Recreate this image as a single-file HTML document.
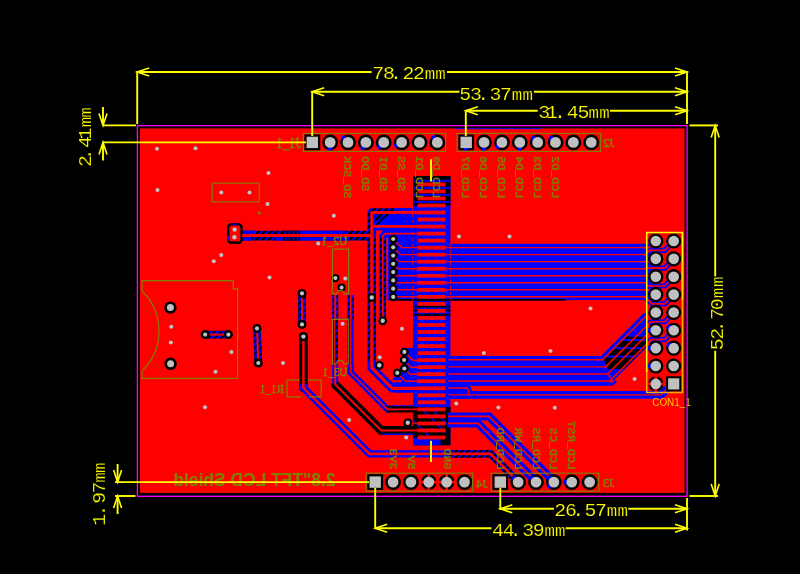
<!DOCTYPE html>
<html lang="en">
<head>
<meta charset="utf-8">
<title>2.8 TFT LCD Shield PCB layout</title>
<style>html,body{margin:0;padding:0;background:#000;overflow:hidden}svg{display:block;will-change:transform}text{white-space:pre}</style>
</head>
<body>
<svg width="800" height="574" viewBox="0 0 800 574">
<g id="base">
<defs><pattern id="hatch" width="4.4" height="4.4" patternUnits="userSpaceOnUse" patternTransform="rotate(-45)"><rect width="4.4" height="4.4" fill="#000"/><rect width="4.4" height="2" fill="#0000ff"/></pattern><pattern id="hatchb" width="4.4" height="4.4" patternUnits="userSpaceOnUse" patternTransform="rotate(-45)"><rect width="4.4" height="4.4" fill="#000"/><rect width="4.4" height="2.9" fill="#0000ff"/></pattern><pattern id="hatchv" width="3.5" height="3.5" patternUnits="userSpaceOnUse"><rect width="3.5" height="3.5" fill="#000"/><rect width="3.5" height="1.7" fill="#0000ff"/></pattern><linearGradient id="cg" x1="0" y1="0" x2="0" y2="1"><stop offset="0" stop-color="#ffff00"/><stop offset="0.4" stop-color="#ffe000"/><stop offset="1" stop-color="#ffa800"/></linearGradient></defs>
<rect x="0" y="0" width="800" height="574" fill="#000000" />
<rect x="140" y="128.4" width="544.5" height="364.5" fill="#ff0000" />
</g>
<g id="blue">
<rect x="413" y="176" width="37.4" height="269.2" fill="#0000ff" />
<rect x="413" y="176" width="37.4" height="29.5" fill="#000000" />
<rect x="413" y="179.8" width="37.4" height="2" fill="#0000ff" />
<rect x="413" y="186.9" width="37.4" height="2" fill="#0000ff" />
<rect x="413" y="193.9" width="37.4" height="2" fill="#0000ff" />
<rect x="413" y="200.9" width="37.4" height="2" fill="#0000ff" />
<rect x="413" y="298.8" width="37.4" height="2" fill="#000000" />
<rect x="413" y="305.6" width="37.4" height="2" fill="#000000" />
<rect x="413" y="309.4" width="37.4" height="2" fill="#000000" />
<rect x="413" y="313.8" width="37.4" height="2" fill="#000000" />
<rect x="413" y="407" width="37.4" height="38.2" fill="#000000" />
<rect x="413" y="437.5" width="27.5" height="7.7" fill="#0000ff" />
<polyline points="424,411 446,433" fill="none" stroke="#0000ff" stroke-width="1.6" />
<polyline points="434,411 449,426" fill="none" stroke="#0000ff" stroke-width="1.6" />
<polyline points="413,420 438,445" fill="none" stroke="#0000ff" stroke-width="1.6" />
<rect x="373.4" y="213.8" width="39.6" height="86.4" fill="#0000ff" />
<polygon points="373.6,214 388.5,214 377.8,225 373.6,225" fill="url(#hatch)" />
<polyline points="242,235.6 373,235.6" fill="none" stroke="url(#hatch)" stroke-width="9.6" stroke-linejoin="round"/>
<polyline points="371.8,240.4 371.8,212.4 395,212.4" fill="none" stroke="url(#hatch)" stroke-width="8.4" stroke-linejoin="round"/>
<polyline points="394,212.4 414,212.4" fill="none" stroke="#0000ff" stroke-width="8.4" />
<polyline points="242.5,232.3 256,232.3" fill="none" stroke="#0000ff" stroke-width="3.3" />
<polyline points="242.5,238.9 251,238.9" fill="none" stroke="#0000ff" stroke-width="3.3" />
<polyline points="300,232.3 345,232.3" fill="none" stroke="#0000ff" stroke-width="3.3" />
<polyline points="275,238.9 283,238.9" fill="none" stroke="#0000ff" stroke-width="3.3" />
<polyline points="300,238.9 350,238.9" fill="none" stroke="#0000ff" stroke-width="3.3" />
<polyline points="394,209.8 413,209.8" fill="none" stroke="#0000ff" stroke-width="3.2" />
<polyline points="389,216 413,216" fill="none" stroke="#0000ff" stroke-width="4.4" />
<rect x="283" y="230.7" width="17" height="3.3" fill="#000000" />
<rect x="283" y="237.3" width="17" height="3.2" fill="#000000" />
<rect x="284.6" y="230.7" width="1.8" height="3.3" fill="#0000ff" />
<rect x="284.6" y="237.3" width="1.8" height="3.2" fill="#0000ff" />
<rect x="288.6" y="230.7" width="1.8" height="3.3" fill="#0000ff" />
<rect x="288.6" y="237.3" width="1.8" height="3.2" fill="#0000ff" />
<rect x="292.6" y="230.7" width="1.8" height="3.3" fill="#0000ff" />
<rect x="292.6" y="237.3" width="1.8" height="3.2" fill="#0000ff" />
<rect x="296.6" y="230.7" width="1.8" height="3.3" fill="#0000ff" />
<rect x="296.6" y="237.3" width="1.8" height="3.2" fill="#0000ff" />
<rect x="373.4" y="214" width="1.6" height="86" fill="#0000ff" />
<polyline points="371.8,235.6 371.8,364" fill="none" stroke="url(#hatch)" stroke-width="8.4" stroke-linejoin="round"/>
<polyline points="380.8,237 380.8,321" fill="none" stroke="url(#hatch)" stroke-width="2.2" />
<polyline points="384.8,238 384.8,321" fill="none" stroke="url(#hatch)" stroke-width="2.2" />
<polyline points="375.4,300 375.4,362" fill="none" stroke="url(#hatch)" stroke-width="1.8" />
<rect x="384" y="236" width="29" height="64.2" fill="#0000ff" />
<rect x="450.4" y="243.8" width="195.6" height="56.3" fill="#0000ff" />
<polyline points="380.8,237 380.8,321" fill="none" stroke="url(#hatch)" stroke-width="2.2" />
<polyline points="384.8,238 384.8,321" fill="none" stroke="url(#hatch)" stroke-width="2.2" />
<polyline points="396,299.9 565.5,299.9" fill="none" stroke="#000000" stroke-width="1.7" />
<rect x="450.4" y="357" width="19.6" height="42" fill="#0000ff" />
<rect x="450.4" y="356.6" width="151.6" height="29" fill="#0000ff" />
<polyline points="448.4,359.8 603.5,359.8" fill="none" stroke="#0000ff" stroke-width="7.4" stroke-linejoin="miter"/>
<polyline points="448.4,366.9 606.6,366.9" fill="none" stroke="#0000ff" stroke-width="7.4" stroke-linejoin="miter"/>
<polyline points="448.4,374 608.6,374" fill="none" stroke="#0000ff" stroke-width="7.4" stroke-linejoin="miter"/>
<polyline points="448.4,381 610.8,381" fill="none" stroke="#0000ff" stroke-width="7.4" stroke-linejoin="miter"/>
<polygon points="600,357 643,314 647,314 647,347 613,381" fill="#0000ff" />
<clipPath id="cpB"><polygon points="603,357 643,317 647,317 647,346 612,381"/></clipPath>
<rect x="596" y="336.6" width="52" height="32.4" fill="#000000" clip-path="url(#cpB)"/>
<rect x="596" y="339" width="52" height="2" fill="#0000ff" clip-path="url(#cpB)"/>
<rect x="596" y="347.2" width="52" height="2" fill="#0000ff" clip-path="url(#cpB)"/>
<rect x="596" y="355.6" width="52" height="2" fill="#0000ff" clip-path="url(#cpB)"/>
<polyline points="450.4,384.4 612.5,384.4 616,381" fill="none" stroke="#0000ff" stroke-width="2.6" stroke-linejoin="miter"/>
<polyline points="450.4,357.6 602,357.6 646,313.6" fill="none" stroke="#0000ff" stroke-width="3" stroke-linejoin="miter"/>
<polyline points="448.4,394.8 661,394.8 667,388.8" fill="none" stroke="#0000ff" stroke-width="7.8" stroke-linejoin="miter"/>
<polyline points="448.4,388 466.5,388 468.6,390.1 468.6,394" fill="none" stroke="#0000ff" stroke-width="6.4" stroke-linejoin="round"/>
<rect x="646" y="243.8" width="5" height="58.2" fill="#0000ff" />
<polyline points="644,254.63 645,254.63 649.33,250.3 664.8,250.3 673.7,241" fill="none" stroke="#0000ff" stroke-width="5.2" stroke-linejoin="miter"/>
<polyline points="644,268.69 645,268.69 645.53,268.16 664.8,268.16 673.7,258.86" fill="none" stroke="#0000ff" stroke-width="5.2" stroke-linejoin="miter"/>
<polyline points="644,282.75 645,282.75 648.27,286.02 664.8,286.02 673.7,276.72" fill="none" stroke="#0000ff" stroke-width="5.2" stroke-linejoin="miter"/>
<polyline points="644,296.81 645,296.81 652.07,303.88 664.8,303.88 673.7,294.58" fill="none" stroke="#0000ff" stroke-width="5.2" stroke-linejoin="miter"/>
<polyline points="648.76,323.74 650.76,321.74 664.8,321.74 673.7,312.44" fill="none" stroke="#0000ff" stroke-width="5.2" stroke-linejoin="miter"/>
<polyline points="649.2,341.6 651.2,339.6 664.8,339.6 673.7,330.3" fill="none" stroke="#0000ff" stroke-width="5.2" stroke-linejoin="miter"/>
<polyline points="455,128.7 541,128.7" fill="none" stroke="#0000ff" stroke-width="1" />
<rect x="228.2" y="224.4" width="13.4" height="18.4" rx="3" fill="#ff0000" stroke="#000000" stroke-width="2.4"/>
<polyline points="228.2,236 228.2,240" fill="none" stroke="#0000ff" stroke-width="2" />
<polyline points="232,224.2 237,224.2" fill="none" stroke="#0000ff" stroke-width="1.4" />
<polyline points="205.2,334.6 228.4,334.6" fill="none" stroke="#000000" stroke-width="7.6" stroke-linecap="round"/>
<polyline points="205.2,334.6 228.4,334.6" fill="none" stroke="url(#hatchb)" stroke-width="7.2" />
<polyline points="257,328.4 258.3,363" fill="none" stroke="#000000" stroke-width="7.6" stroke-linecap="round"/>
<polyline points="257,328.4 258.3,363" fill="none" stroke="url(#hatchb)" stroke-width="7.2" />
<polyline points="302,293.4 302,324.4" fill="none" stroke="#000000" stroke-width="7.6" stroke-linecap="round"/>
<polyline points="302,293.4 302,324.4" fill="none" stroke="url(#hatchb)" stroke-width="7.2" />
<polyline points="303.4,336.6 303.4,387.8" fill="none" stroke="#000000" stroke-width="8.6" stroke-linecap="round"/>
<polyline points="303.4,384 303.4,387.8 369.5,453.9 451,453.9" fill="none" stroke="#0000ff" stroke-width="7.4" stroke-linejoin="miter"/>
<polyline points="450,453.9 490.5,453.9 518.2,481.6" fill="none" stroke="url(#hatch)" stroke-width="7.6" stroke-linejoin="miter"/>
<polyline points="335.2,295 335.2,319.4" fill="none" stroke="url(#hatchb)" stroke-width="6.2" />
<polyline points="333.2,319.4 333.2,364" fill="none" stroke="#0000ff" stroke-width="1.8" />
<polyline points="336.6,319.4 336.6,364" fill="none" stroke="url(#hatch)" stroke-width="2.6" />
<polyline points="335.2,364 335.2,386" fill="none" stroke="#0000ff" stroke-width="6" />
<polyline points="335.2,383.5 335.2,384.5 381.1,430.4 413,430.4" fill="none" stroke="#000000" stroke-width="8.6" stroke-linejoin="miter"/>
<polyline points="381,434.2 413,434.2" fill="none" stroke="#0000ff" stroke-width="1.4" />
<polyline points="350.7,295 350.7,319.4" fill="none" stroke="url(#hatchb)" stroke-width="6.4" />
<polyline points="348.4,319.4 348.4,364" fill="none" stroke="url(#hatch)" stroke-width="2.6" />
<polyline points="352.2,319.4 352.2,364" fill="none" stroke="#0000ff" stroke-width="2.6" />
<polyline points="350.7,364 350.7,372.5 387.5,409.3 390,409.3" fill="none" stroke="#0000ff" stroke-width="6.4" stroke-linejoin="miter"/>
<polyline points="386.5,409.3 413,409.3" fill="none" stroke="#000000" stroke-width="6.4" />
<polyline points="389,405.8 413,405.8" fill="none" stroke="#0000ff" stroke-width="1" />
<polyline points="371.8,362 371.8,368 392.1,388.3 418,388.3" fill="none" stroke="#0000ff" stroke-width="8.4" stroke-linejoin="miter"/>
<polygon points="405.5,348 413,348 413,392.5 396,392.5 388,384 393.5,378.5 398,373 405.5,369" fill="#0000ff" />
<polyline points="448,416.4 489,416.4 553.9,481.3" fill="none" stroke="#0000ff" stroke-width="8" stroke-linejoin="miter"/>
<polyline points="448,423.4 478,423.4 536,481.4" fill="none" stroke="#0000ff" stroke-width="8" stroke-linejoin="miter"/>
</g>
<g id="red">
<rect x="417.6" y="182.49" width="28" height="3.8" fill="#ff0000" />
<rect x="417.6" y="189.52" width="28" height="3.8" fill="#ff0000" />
<rect x="417.6" y="196.55" width="28" height="3.8" fill="#ff0000" />
<rect x="417.6" y="203.58" width="28" height="3.8" fill="#ff0000" />
<rect x="417.6" y="210.61" width="28" height="3.8" fill="#ff0000" />
<rect x="417.6" y="217.64" width="28" height="3.8" fill="#ff0000" />
<rect x="417.6" y="224.67" width="28" height="3.8" fill="#ff0000" />
<rect x="417.6" y="231.7" width="28" height="3.8" fill="#ff0000" />
<rect x="417.6" y="238.73" width="28" height="3.8" fill="#ff0000" />
<rect x="417.6" y="245.76" width="28" height="3.8" fill="#ff0000" />
<rect x="417.6" y="252.79" width="28" height="3.8" fill="#ff0000" />
<rect x="417.6" y="259.82" width="28" height="3.8" fill="#ff0000" />
<rect x="417.6" y="266.85" width="28" height="3.8" fill="#ff0000" />
<rect x="417.6" y="273.88" width="28" height="3.8" fill="#ff0000" />
<rect x="417.6" y="280.91" width="28" height="3.8" fill="#ff0000" />
<rect x="417.6" y="287.94" width="28" height="3.8" fill="#ff0000" />
<rect x="417.6" y="294.97" width="28" height="3.8" fill="#ff0000" />
<rect x="417.6" y="302" width="28" height="3.8" fill="#ff0000" />
<rect x="417.6" y="309.03" width="28" height="3.8" fill="#ff0000" />
<rect x="417.6" y="316.06" width="28" height="3.8" fill="#ff0000" />
<rect x="417.6" y="323.09" width="28" height="3.8" fill="#ff0000" />
<rect x="417.6" y="330.12" width="28" height="3.8" fill="#ff0000" />
<rect x="417.6" y="337.15" width="28" height="3.8" fill="#ff0000" />
<rect x="417.6" y="344.18" width="28" height="3.8" fill="#ff0000" />
<rect x="417.6" y="351.21" width="28" height="3.8" fill="#ff0000" />
<rect x="417.6" y="358.24" width="28" height="3.8" fill="#ff0000" />
<rect x="417.6" y="365.27" width="28" height="3.8" fill="#ff0000" />
<rect x="417.6" y="372.3" width="28" height="3.8" fill="#ff0000" />
<rect x="417.6" y="379.33" width="28" height="3.8" fill="#ff0000" />
<rect x="417.6" y="386.36" width="28" height="3.8" fill="#ff0000" />
<rect x="417.6" y="393.39" width="28" height="3.8" fill="#ff0000" />
<rect x="417.6" y="400.42" width="28" height="3.8" fill="#ff0000" />
<rect x="417.6" y="407.45" width="28" height="3.8" fill="#ff0000" />
<rect x="417.6" y="414.48" width="28" height="3.8" fill="#ff0000" />
<rect x="417.6" y="421.51" width="28" height="3.8" fill="#ff0000" />
<rect x="417.6" y="428.54" width="28" height="3.8" fill="#ff0000" />
<rect x="417.6" y="435.57" width="28" height="3.8" fill="#ff0000" />
<polyline points="242,235.6 373,235.6" fill="none" stroke="#ff0000" stroke-width="3" stroke-linejoin="round"/>
<polyline points="371.8,240.4 371.8,212.4 395,212.4" fill="none" stroke="#ff0000" stroke-width="3" stroke-linejoin="round"/>
<polyline points="394,212.4 418,212.4" fill="none" stroke="#ff0000" stroke-width="3" />
<polyline points="371.8,226.4 418,226.4" fill="none" stroke="#ff0000" stroke-width="2.8" />
<polyline points="371.8,235.6 371.8,364" fill="none" stroke="#ff0000" stroke-width="3.2" stroke-linejoin="round"/>
<polygon points="375.9,230.4 382.6,230.4 382.6,231.6 379.5,234.6 379.5,300 375.9,300" fill="#ff0000" />
<polyline points="377.7,300 377.7,362" fill="none" stroke="#ff0000" stroke-width="3.4" />
<polyline points="418,233.6 385.2,233.6 382.7,236.1 382.7,320" fill="none" stroke="#ff0000" stroke-width="1.6" stroke-linejoin="round"/>
<polyline points="387.2,237.8 387.2,301" fill="none" stroke="#ff0000" stroke-width="1.9" />
<polyline points="393.2,239 401.8,247.6 645,247.6" fill="none" stroke="#ff0000" stroke-width="1.4" />
<polyline points="393.2,247.28 400.55,254.63 645,254.63" fill="none" stroke="#ff0000" stroke-width="1.4" />
<polyline points="393.2,255.56 399.3,261.66 645,261.66" fill="none" stroke="#ff0000" stroke-width="1.4" />
<polyline points="393.2,263.84 398.05,268.69 645,268.69" fill="none" stroke="#ff0000" stroke-width="1.4" />
<polyline points="393.2,272.12 396.8,275.72 645,275.72" fill="none" stroke="#ff0000" stroke-width="1.4" />
<polyline points="393.2,280.4 395.55,282.75 645,282.75" fill="none" stroke="#ff0000" stroke-width="1.4" />
<polyline points="393.2,288.68 394.3,289.78 645,289.78" fill="none" stroke="#ff0000" stroke-width="1.4" />
<polyline points="393.2,296.96 399,296.81 645,296.81" fill="none" stroke="#ff0000" stroke-width="1.4" />
<polyline points="412.7,208 412.7,300" fill="none" stroke="#ff0000" stroke-width="0.8" stroke-dasharray="3 3"/>
<polyline points="450.6,244 450.6,300" fill="none" stroke="#ff0000" stroke-width="0.8" stroke-dasharray="3 3"/>
<polyline points="448.4,359.8 603.5,359.8" fill="none" stroke="#ff0000" stroke-width="1.4" stroke-linejoin="miter"/>
<polyline points="448.4,366.9 606.6,366.9" fill="none" stroke="#ff0000" stroke-width="1.4" stroke-linejoin="miter"/>
<polyline points="448.4,374 608.6,374" fill="none" stroke="#ff0000" stroke-width="1.4" stroke-linejoin="miter"/>
<polyline points="448.4,381 610.8,381" fill="none" stroke="#ff0000" stroke-width="1.4" stroke-linejoin="miter"/>
<polyline points="448.4,394.8 661,394.8 667,388.8" fill="none" stroke="#ff0000" stroke-width="1.3" stroke-linejoin="miter"/>
<polyline points="448.4,388 466.5,388 468.6,390.1 468.6,394" fill="none" stroke="#ff0000" stroke-width="1.3" stroke-linejoin="round"/>
<polyline points="644,254.63 645,254.63 649.33,250.3 664.8,250.3 673.7,241" fill="none" stroke="#ff0000" stroke-width="1.7" stroke-linejoin="miter"/>
<polyline points="644,247.6 649,247.6 655.8,241" fill="none" stroke="#ff0000" stroke-width="1.7" />
<polyline points="644,268.69 645,268.69 645.53,268.16 664.8,268.16 673.7,258.86" fill="none" stroke="#ff0000" stroke-width="1.7" stroke-linejoin="miter"/>
<polyline points="644,261.66 649,261.66 655.8,258.86" fill="none" stroke="#ff0000" stroke-width="1.7" />
<polyline points="644,282.75 645,282.75 648.27,286.02 664.8,286.02 673.7,276.72" fill="none" stroke="#ff0000" stroke-width="1.7" stroke-linejoin="miter"/>
<polyline points="644,275.72 649,275.72 655.8,276.72" fill="none" stroke="#ff0000" stroke-width="1.7" />
<polyline points="644,296.81 645,296.81 652.07,303.88 664.8,303.88 673.7,294.58" fill="none" stroke="#ff0000" stroke-width="1.7" stroke-linejoin="miter"/>
<polyline points="644,289.78 649,289.78 655.8,294.58" fill="none" stroke="#ff0000" stroke-width="1.7" />
<polyline points="601.5,359.8 602.5,359.8 648.5,313.8 655.8,312.44" fill="none" stroke="#ff0000" stroke-width="1.6" />
<polyline points="604.6,366.9 605.6,366.9 650.76,321.74" fill="none" stroke="#ff0000" stroke-width="1.6" />
<polyline points="648.76,323.74 650.76,321.74 664.8,321.74 673.7,312.44" fill="none" stroke="#ff0000" stroke-width="1.7" stroke-linejoin="miter"/>
<polyline points="606.6,374 607.6,374 648.5,333.1 655.8,330.3" fill="none" stroke="#ff0000" stroke-width="1.6" />
<polyline points="608.8,381 609.8,381 651.2,339.6" fill="none" stroke="#ff0000" stroke-width="1.6" />
<polyline points="649.2,341.6 651.2,339.6 664.8,339.6 673.7,330.3" fill="none" stroke="#ff0000" stroke-width="1.7" stroke-linejoin="miter"/>
<polyline points="205.2,334.6 228.4,334.6" fill="none" stroke="#ff0000" stroke-width="2" />
<polyline points="257,328.4 258.3,363" fill="none" stroke="#ff0000" stroke-width="2" />
<polyline points="302,293.4 302,324.4" fill="none" stroke="#ff0000" stroke-width="2" />
<polyline points="303.4,336.6 303.4,387.8 369.5,453.9 490.5,453.9 518.2,481.6" fill="none" stroke="#ff0000" stroke-width="2.6" stroke-linejoin="miter"/>
<polyline points="335.2,295 335.2,319.4" fill="none" stroke="#ff0000" stroke-width="2" />
<polyline points="335.2,364 335.2,384.5 381.1,430.4 418,430.4" fill="none" stroke="#ff0000" stroke-width="2" stroke-linejoin="miter"/>
<polyline points="350.7,295 350.7,319.4" fill="none" stroke="#ff0000" stroke-width="1.7" />
<polyline points="350.7,364 350.7,372.5 387.5,409.3 418,409.3" fill="none" stroke="#ff0000" stroke-width="1.7" stroke-linejoin="miter"/>
<polyline points="371.8,362 371.8,368 392.1,388.3 418,388.3" fill="none" stroke="#ff0000" stroke-width="3.2" stroke-linejoin="miter"/>
<polyline points="404.4,351.9 412.64,360.14 418,360.14" fill="none" stroke="#ff0000" stroke-width="1.5" />
<polyline points="392,381.2 402,381.2" fill="none" stroke="#ff0000" stroke-width="2.2" />
<polyline points="407.8,422.9 418,423.4" fill="none" stroke="#ff0000" stroke-width="1.4" />
<polyline points="448,416.4 489,416.4 553.9,481.3" fill="none" stroke="#ff0000" stroke-width="1.8" stroke-linejoin="miter"/>
<polyline points="448,423.4 478,423.4 536,481.4" fill="none" stroke="#ff0000" stroke-width="1.8" stroke-linejoin="miter"/>
</g>
<g id="pad">
<circle cx="393.2" cy="239" r="4.3" fill="#000000" />
<circle cx="393.2" cy="239" r="2.1" fill="#c0c0c0" />
<circle cx="393.2" cy="247.28" r="4.3" fill="#000000" />
<circle cx="393.2" cy="247.28" r="2.1" fill="#c0c0c0" />
<circle cx="393.2" cy="255.56" r="4.3" fill="#000000" />
<circle cx="393.2" cy="255.56" r="2.1" fill="#c0c0c0" />
<circle cx="393.2" cy="263.84" r="4.3" fill="#000000" />
<circle cx="393.2" cy="263.84" r="2.1" fill="#c0c0c0" />
<circle cx="393.2" cy="272.12" r="4.3" fill="#000000" />
<circle cx="393.2" cy="272.12" r="2.1" fill="#c0c0c0" />
<circle cx="393.2" cy="280.4" r="4.3" fill="#000000" />
<circle cx="393.2" cy="280.4" r="2.1" fill="#c0c0c0" />
<circle cx="393.2" cy="288.68" r="4.3" fill="#000000" />
<circle cx="393.2" cy="288.68" r="2.1" fill="#c0c0c0" />
<circle cx="393.2" cy="296.96" r="4.3" fill="#000000" />
<circle cx="393.2" cy="296.96" r="2.1" fill="#c0c0c0" />
<rect x="304.4" y="134.5" width="15.8" height="15.8" fill="#000000" />
<rect x="306.6" y="136.7" width="11.4" height="11.4" fill="#c0c0c0" />
<circle cx="330.16" cy="142.4" r="7.9" fill="#000000" />
<polyline points="330.16,145.4 330.16,150.5" fill="none" stroke="#0000ff" stroke-width="4.4" />
<circle cx="330.16" cy="142.4" r="5.4" fill="#c0c0c0" />
<circle cx="348.02" cy="142.4" r="7.9" fill="#000000" />
<polyline points="345.9,140.28 342.29,136.67" fill="none" stroke="#0000ff" stroke-width="4.4" />
<circle cx="348.02" cy="142.4" r="5.4" fill="#c0c0c0" />
<circle cx="365.88" cy="142.4" r="7.9" fill="#000000" />
<polyline points="364.38,145 361.83,149.41" fill="none" stroke="#0000ff" stroke-width="4.4" />
<circle cx="365.88" cy="142.4" r="5.4" fill="#c0c0c0" />
<circle cx="383.74" cy="142.4" r="7.9" fill="#000000" />
<polyline points="381.62,144.52 378.01,148.13" fill="none" stroke="#0000ff" stroke-width="4.4" />
<circle cx="383.74" cy="142.4" r="5.4" fill="#c0c0c0" />
<circle cx="401.6" cy="142.4" r="7.9" fill="#000000" />
<polyline points="399,143.9 394.59,146.45" fill="none" stroke="#0000ff" stroke-width="4.4" />
<circle cx="401.6" cy="142.4" r="5.4" fill="#c0c0c0" />
<circle cx="419.46" cy="142.4" r="7.9" fill="#000000" />
<circle cx="419.46" cy="142.4" r="5.4" fill="#c0c0c0" />
<circle cx="437.32" cy="142.4" r="7.9" fill="#000000" />
<polyline points="435.6,139.94 432.67,135.76" fill="none" stroke="#0000ff" stroke-width="4.4" />
<circle cx="437.32" cy="142.4" r="5.4" fill="#c0c0c0" />
<rect x="458.3" y="134.5" width="15.8" height="15.8" fill="#000000" />
<polyline points="466.2,145.4 466.2,150.5" fill="none" stroke="#0000ff" stroke-width="4.4" />
<rect x="460.5" y="136.7" width="11.4" height="11.4" fill="#c0c0c0" />
<circle cx="484.06" cy="142.4" r="7.9" fill="#000000" />
<polyline points="484.06,145.4 484.06,150.5" fill="none" stroke="#0000ff" stroke-width="4.4" />
<circle cx="484.06" cy="142.4" r="5.4" fill="#c0c0c0" />
<circle cx="501.92" cy="142.4" r="7.9" fill="#000000" />
<polyline points="499.8,144.52 496.19,148.13" fill="none" stroke="#0000ff" stroke-width="4.4" />
<circle cx="501.92" cy="142.4" r="5.4" fill="#c0c0c0" />
<circle cx="519.78" cy="142.4" r="7.9" fill="#000000" />
<polyline points="519.78,145.4 519.78,150.5" fill="none" stroke="#0000ff" stroke-width="4.4" />
<circle cx="519.78" cy="142.4" r="5.4" fill="#c0c0c0" />
<circle cx="537.64" cy="142.4" r="7.9" fill="#000000" />
<polyline points="535.52,140.28 531.91,136.67" fill="none" stroke="#0000ff" stroke-width="4.4" />
<circle cx="537.64" cy="142.4" r="5.4" fill="#c0c0c0" />
<circle cx="555.5" cy="142.4" r="7.9" fill="#000000" />
<polyline points="553.38,140.28 549.77,136.67" fill="none" stroke="#0000ff" stroke-width="4.4" />
<circle cx="555.5" cy="142.4" r="5.4" fill="#c0c0c0" />
<circle cx="573.36" cy="142.4" r="7.9" fill="#000000" />
<circle cx="573.36" cy="142.4" r="5.4" fill="#c0c0c0" />
<circle cx="591.22" cy="142.4" r="7.9" fill="#000000" />
<circle cx="591.22" cy="142.4" r="5.4" fill="#c0c0c0" />
<rect x="367.3" y="474.2" width="15.8" height="15.8" fill="#000000" />
<rect x="369.5" y="476.4" width="11.4" height="11.4" fill="#c0c0c0" />
<circle cx="393.06" cy="482.1" r="7.9" fill="#000000" />
<circle cx="393.06" cy="482.1" r="5.4" fill="#c0c0c0" />
<circle cx="410.92" cy="482.1" r="7.9" fill="#000000" />
<circle cx="410.92" cy="482.1" r="5.4" fill="#c0c0c0" />
<circle cx="428.78" cy="482.1" r="7.9" fill="#000000" />
<polyline points="420.38,482.1 437.18,482.1" fill="none" stroke="#ff0000" stroke-width="2.8" />
<polyline points="428.78,473.7 428.78,490.5" fill="none" stroke="#ff0000" stroke-width="2.8" />
<circle cx="428.78" cy="482.1" r="5.4" fill="#c0c0c0" />
<circle cx="446.64" cy="482.1" r="7.9" fill="#000000" />
<polyline points="438.24,482.1 455.04,482.1" fill="none" stroke="#ff0000" stroke-width="2.8" />
<polyline points="446.64,473.7 446.64,490.5" fill="none" stroke="#ff0000" stroke-width="2.8" />
<circle cx="446.64" cy="482.1" r="5.4" fill="#c0c0c0" />
<circle cx="464.5" cy="482.1" r="7.9" fill="#000000" />
<circle cx="464.5" cy="482.1" r="5.4" fill="#c0c0c0" />
<rect x="492.4" y="474.2" width="15.8" height="15.8" fill="#000000" />
<rect x="494.6" y="476.4" width="11.4" height="11.4" fill="#c0c0c0" />
<circle cx="518.16" cy="482.1" r="7.9" fill="#000000" />
<polyline points="516.04,479.98 512.43,476.37" fill="none" stroke="#0000ff" stroke-width="4.4" />
<circle cx="518.16" cy="482.1" r="5.4" fill="#c0c0c0" />
<circle cx="536.02" cy="482.1" r="7.9" fill="#000000" />
<polyline points="533.9,479.98 530.29,476.37" fill="none" stroke="#0000ff" stroke-width="4.4" />
<circle cx="536.02" cy="482.1" r="5.4" fill="#c0c0c0" />
<circle cx="553.88" cy="482.1" r="7.9" fill="#000000" />
<polyline points="551.76,479.98 548.15,476.37" fill="none" stroke="#0000ff" stroke-width="4.4" />
<polyline points="551.76,484.22 548.15,487.83" fill="none" stroke="#0000ff" stroke-width="4.4" />
<circle cx="553.88" cy="482.1" r="5.4" fill="#c0c0c0" />
<circle cx="571.74" cy="482.1" r="7.9" fill="#000000" />
<polyline points="568.74,482.1 563.64,482.1" fill="none" stroke="#0000ff" stroke-width="4.4" />
<circle cx="571.74" cy="482.1" r="5.4" fill="#c0c0c0" />
<circle cx="589.6" cy="482.1" r="7.9" fill="#000000" />
<circle cx="589.6" cy="482.1" r="5.4" fill="#c0c0c0" />
<circle cx="655.8" cy="241" r="7.6" fill="#000000" />
<circle cx="655.8" cy="241" r="5.3" fill="#c0c0c0" />
<circle cx="673.7" cy="241" r="7.6" fill="#000000" />
<circle cx="673.7" cy="241" r="5.3" fill="#c0c0c0" />
<circle cx="655.8" cy="258.86" r="7.6" fill="#000000" />
<circle cx="655.8" cy="258.86" r="5.3" fill="#c0c0c0" />
<circle cx="673.7" cy="258.86" r="7.6" fill="#000000" />
<circle cx="673.7" cy="258.86" r="5.3" fill="#c0c0c0" />
<circle cx="655.8" cy="276.72" r="7.6" fill="#000000" />
<circle cx="655.8" cy="276.72" r="5.3" fill="#c0c0c0" />
<circle cx="673.7" cy="276.72" r="7.6" fill="#000000" />
<circle cx="673.7" cy="276.72" r="5.3" fill="#c0c0c0" />
<circle cx="655.8" cy="294.58" r="7.6" fill="#000000" />
<circle cx="655.8" cy="294.58" r="5.3" fill="#c0c0c0" />
<circle cx="673.7" cy="294.58" r="7.6" fill="#000000" />
<circle cx="673.7" cy="294.58" r="5.3" fill="#c0c0c0" />
<circle cx="655.8" cy="312.44" r="7.6" fill="#000000" />
<circle cx="655.8" cy="312.44" r="5.3" fill="#c0c0c0" />
<circle cx="673.7" cy="312.44" r="7.6" fill="#000000" />
<circle cx="673.7" cy="312.44" r="5.3" fill="#c0c0c0" />
<circle cx="655.8" cy="330.3" r="7.6" fill="#000000" />
<polyline points="652.8,330.3 648,330.3" fill="none" stroke="#0000ff" stroke-width="4.4" />
<circle cx="655.8" cy="330.3" r="5.3" fill="#c0c0c0" />
<circle cx="673.7" cy="330.3" r="7.6" fill="#000000" />
<polyline points="671.24,328.58 667.31,325.83" fill="none" stroke="#0000ff" stroke-width="4.4" />
<circle cx="673.7" cy="330.3" r="5.3" fill="#c0c0c0" />
<circle cx="655.8" cy="348.16" r="7.6" fill="#000000" />
<polyline points="652.8,348.16 648,348.16" fill="none" stroke="#0000ff" stroke-width="4.4" />
<circle cx="655.8" cy="348.16" r="5.3" fill="#c0c0c0" />
<circle cx="673.7" cy="348.16" r="7.6" fill="#000000" />
<polyline points="671.24,346.44 667.31,343.69" fill="none" stroke="#0000ff" stroke-width="4.4" />
<circle cx="673.7" cy="348.16" r="5.3" fill="#c0c0c0" />
<circle cx="655.8" cy="366.02" r="7.6" fill="#000000" />
<polyline points="652.8,366.02 648,366.02" fill="none" stroke="#0000ff" stroke-width="4.4" />
<circle cx="655.8" cy="366.02" r="5.3" fill="#c0c0c0" />
<circle cx="673.7" cy="366.02" r="7.6" fill="#000000" />
<circle cx="673.7" cy="366.02" r="5.3" fill="#c0c0c0" />
<circle cx="655.8" cy="383.88" r="7.6" fill="#000000" />
<polyline points="647.7,383.88 663.9,383.88" fill="none" stroke="#ff0000" stroke-width="2.8" />
<polyline points="655.8,375.78 655.8,391.98" fill="none" stroke="#ff0000" stroke-width="2.8" />
<circle cx="655.8" cy="383.88" r="5.3" fill="#c0c0c0" />
<rect x="666.1" y="376.28" width="15.2" height="15.2" fill="#000000" />
<rect x="668.1" y="378.28" width="11.2" height="11.2" fill="#c0c0c0" />
<circle cx="234.6" cy="229.6" r="2.2" fill="#c0c0c0" />
<circle cx="234.4" cy="237.2" r="2.2" fill="#c0c0c0" />
<circle cx="205.2" cy="334.6" r="4.5" fill="#000000" />
<circle cx="205.2" cy="334.6" r="2.1" fill="#c0c0c0" />
<circle cx="228.4" cy="334.6" r="4.5" fill="#000000" />
<circle cx="228.4" cy="334.6" r="2.1" fill="#c0c0c0" />
<circle cx="257" cy="328.4" r="4.5" fill="#000000" />
<circle cx="257" cy="328.4" r="2.1" fill="#c0c0c0" />
<circle cx="258.3" cy="363" r="4.5" fill="#000000" />
<circle cx="258.3" cy="363" r="2.1" fill="#c0c0c0" />
<circle cx="302" cy="293.4" r="4.5" fill="#000000" />
<circle cx="302" cy="293.4" r="2.1" fill="#c0c0c0" />
<circle cx="302" cy="324.4" r="4.5" fill="#000000" />
<circle cx="302" cy="324.4" r="2.1" fill="#c0c0c0" />
<circle cx="303.4" cy="336.6" r="4.6" fill="#000000" />
<circle cx="303.4" cy="336.6" r="2.2" fill="#c0c0c0" />
<circle cx="170.4" cy="307.6" r="6.2" fill="#000000" />
<circle cx="170.4" cy="307.6" r="3.5" fill="#c0c0c0" />
<circle cx="170.6" cy="363.8" r="6.2" fill="#000000" />
<circle cx="170.6" cy="363.8" r="3.5" fill="#c0c0c0" />
<circle cx="404.4" cy="351.9" r="4.4" fill="#000000" />
<circle cx="404.4" cy="351.9" r="2.1" fill="#c0c0c0" />
<polyline points="404.1,360 411.27,367.17 418,367.17" fill="none" stroke="#ff0000" stroke-width="1.5" />
<circle cx="404.1" cy="360" r="4.4" fill="#000000" />
<circle cx="404.1" cy="360" r="2.1" fill="#c0c0c0" />
<polyline points="404.4,368.5 410.1,374.2 418,374.2" fill="none" stroke="#ff0000" stroke-width="1.5" />
<circle cx="404.4" cy="368.5" r="4.4" fill="#000000" />
<circle cx="404.4" cy="368.5" r="2.1" fill="#c0c0c0" />
<polyline points="397.3,372.9 405.63,381.23 418,381.23" fill="none" stroke="#ff0000" stroke-width="1.5" />
<circle cx="397.3" cy="372.9" r="4.4" fill="#000000" />
<circle cx="397.3" cy="372.9" r="2.1" fill="#c0c0c0" />
<circle cx="379.3" cy="365.2" r="4.5" fill="#000000" />
<circle cx="379.3" cy="365.2" r="2.2" fill="#c0c0c0" />
<circle cx="382.7" cy="320.8" r="4.4" fill="#000000" />
<circle cx="382.7" cy="320.8" r="2.2" fill="#c0c0c0" />
<circle cx="371.8" cy="297.4" r="4.4" fill="#000000" />
<circle cx="371.8" cy="297.4" r="2.2" fill="#c0c0c0" />
<circle cx="407.8" cy="422.7" r="4.5" fill="#000000" />
<circle cx="407.8" cy="422.7" r="2.2" fill="#c0c0c0" />
<circle cx="335.4" cy="278.1" r="4.2" fill="#000000" />
<circle cx="335.4" cy="278.1" r="2.1" fill="#c0c0c0" />
<circle cx="341.6" cy="287.5" r="4" fill="#000000" />
<circle cx="341.6" cy="287.5" r="2" fill="#c0c0c0" />
<circle cx="157" cy="148.8" r="2.05" fill="#c0c0c0" />
<circle cx="195.5" cy="148.3" r="2.05" fill="#c0c0c0" />
<circle cx="268.5" cy="173" r="2.05" fill="#c0c0c0" />
<circle cx="157.5" cy="190.1" r="2.05" fill="#c0c0c0" />
<circle cx="221.3" cy="192.5" r="2.05" fill="#c0c0c0" />
<circle cx="249.5" cy="192.5" r="2.05" fill="#c0c0c0" />
<circle cx="267.5" cy="204" r="2.05" fill="#c0c0c0" />
<circle cx="221.3" cy="255" r="2.05" fill="#c0c0c0" />
<circle cx="213.8" cy="261.3" r="2.05" fill="#c0c0c0" />
<circle cx="318.2" cy="243.4" r="2.05" fill="#c0c0c0" />
<circle cx="333.8" cy="215.8" r="2.05" fill="#c0c0c0" />
<circle cx="459" cy="236.5" r="2.05" fill="#c0c0c0" />
<circle cx="509.5" cy="236.5" r="2.05" fill="#c0c0c0" />
<circle cx="269.5" cy="277.5" r="2.05" fill="#c0c0c0" />
<circle cx="171.3" cy="326.7" r="2.05" fill="#c0c0c0" />
<circle cx="170.8" cy="342.5" r="2.05" fill="#c0c0c0" />
<circle cx="231.3" cy="352" r="2.05" fill="#c0c0c0" />
<circle cx="215.5" cy="371.8" r="2.05" fill="#c0c0c0" />
<circle cx="205" cy="407.3" r="2.05" fill="#c0c0c0" />
<circle cx="283" cy="363" r="2.05" fill="#c0c0c0" />
<circle cx="590.5" cy="308.5" r="2.05" fill="#c0c0c0" />
<circle cx="483.8" cy="353" r="2.05" fill="#c0c0c0" />
<circle cx="550.5" cy="351" r="2.05" fill="#c0c0c0" />
<circle cx="634.6" cy="379" r="2.05" fill="#c0c0c0" />
<circle cx="402" cy="328.8" r="2.05" fill="#c0c0c0" />
<circle cx="379.7" cy="357.2" r="2.05" fill="#c0c0c0" />
<circle cx="349.2" cy="420" r="2.05" fill="#c0c0c0" />
<circle cx="456.3" cy="403.5" r="2.05" fill="#c0c0c0" />
<circle cx="498.4" cy="407.5" r="2.05" fill="#c0c0c0" />
<circle cx="554.8" cy="407.8" r="2.05" fill="#c0c0c0" />
<circle cx="342.6" cy="323.8" r="2.05" fill="#c0c0c0" />
<circle cx="406.2" cy="437.5" r="2.05" fill="#c0c0c0" />
<circle cx="345.3" cy="278.6" r="2.05" fill="#c0c0c0" />
</g>
<g id="silk">
<rect x="303.3" y="133.4" width="142.3" height="18" fill="none" stroke="#808000" stroke-width="1.1"/>
<rect x="457.2" y="133.4" width="143.4" height="18" fill="none" stroke="#808000" stroke-width="1.1"/>
<rect x="366.2" y="473.2" width="106.4" height="18" fill="none" stroke="#808000" stroke-width="1.1"/>
<rect x="491.2" y="473.2" width="107.6" height="18" fill="none" stroke="#808000" stroke-width="1.1"/>
<polyline points="682.5,232.5 682.5,392.5 646.7,392.5 646.7,370" fill="none" stroke="#ffaa00" stroke-width="1.5" />
<polyline points="682.5,290 682.5,232.5 646.7,232.5 646.7,372" fill="none" stroke="#ffff00" stroke-width="1.5" />
<polyline points="682.5,262 682.5,300" fill="none" stroke="#ffd000" stroke-width="1.5" />
<text x="652.3" y="405.8" font-family="Liberation Sans, sans-serif" font-size="11.6" fill="#ffc400" textLength="38.4" lengthAdjust="spacingAndGlyphs">CON1_1</text>
<text x="0" y="0" font-family="Liberation Mono, monospace" font-size="11.8" fill="#808000" stroke="#808000" stroke-width="0.45" textLength="42.3" lengthAdjust="spacingAndGlyphs" transform="matrix(0,-1,-1,0,344.12,198.4)">SD_SCK</text>
<text x="0" y="0" font-family="Liberation Mono, monospace" font-size="11.8" fill="#808000" stroke="#808000" stroke-width="0.45" textLength="35.25" lengthAdjust="spacingAndGlyphs" transform="matrix(0,-1,-1,0,361.98,191.35)">SD_DO</text>
<text x="0" y="0" font-family="Liberation Mono, monospace" font-size="11.8" fill="#808000" stroke="#808000" stroke-width="0.45" textLength="35.25" lengthAdjust="spacingAndGlyphs" transform="matrix(0,-1,-1,0,379.84,191.35)">SD_DI</text>
<text x="0" y="0" font-family="Liberation Mono, monospace" font-size="11.8" fill="#808000" stroke="#808000" stroke-width="0.45" textLength="35.25" lengthAdjust="spacingAndGlyphs" transform="matrix(0,-1,-1,0,397.7,191.35)">SD_SS</text>
<text x="0" y="0" font-family="Liberation Mono, monospace" font-size="11.8" fill="#808000" stroke="#808000" stroke-width="0.45" textLength="42.3" lengthAdjust="spacingAndGlyphs" transform="matrix(0,-1,-1,0,415.56,198.4)">LCD_D1</text>
<text x="0" y="0" font-family="Liberation Mono, monospace" font-size="11.8" fill="#808000" stroke="#808000" stroke-width="0.45" textLength="42.3" lengthAdjust="spacingAndGlyphs" transform="matrix(0,-1,-1,0,433.42,198.4)">LCD_D0</text>
<text x="0" y="0" font-family="Liberation Mono, monospace" font-size="11.8" fill="#808000" stroke="#808000" stroke-width="0.45" textLength="42.3" lengthAdjust="spacingAndGlyphs" transform="matrix(0,-1,-1,0,462.3,198.4)">LCD_D7</text>
<text x="0" y="0" font-family="Liberation Mono, monospace" font-size="11.8" fill="#808000" stroke="#808000" stroke-width="0.45" textLength="42.3" lengthAdjust="spacingAndGlyphs" transform="matrix(0,-1,-1,0,480.16,198.4)">LCD_D6</text>
<text x="0" y="0" font-family="Liberation Mono, monospace" font-size="11.8" fill="#808000" stroke="#808000" stroke-width="0.45" textLength="42.3" lengthAdjust="spacingAndGlyphs" transform="matrix(0,-1,-1,0,498.02,198.4)">LCD_D5</text>
<text x="0" y="0" font-family="Liberation Mono, monospace" font-size="11.8" fill="#808000" stroke="#808000" stroke-width="0.45" textLength="42.3" lengthAdjust="spacingAndGlyphs" transform="matrix(0,-1,-1,0,515.88,198.4)">LCD_D4</text>
<text x="0" y="0" font-family="Liberation Mono, monospace" font-size="11.8" fill="#808000" stroke="#808000" stroke-width="0.45" textLength="42.3" lengthAdjust="spacingAndGlyphs" transform="matrix(0,-1,-1,0,533.74,198.4)">LCD_D3</text>
<text x="0" y="0" font-family="Liberation Mono, monospace" font-size="11.8" fill="#808000" stroke="#808000" stroke-width="0.45" textLength="42.3" lengthAdjust="spacingAndGlyphs" transform="matrix(0,-1,-1,0,551.6,198.4)">LCD_D2</text>
<text x="0" y="0" font-family="Liberation Mono, monospace" font-size="11.8" fill="#808000" stroke="#808000" stroke-width="0.45" textLength="21.15" lengthAdjust="spacingAndGlyphs" transform="matrix(0,-1,-1,0,389.96,469.6)">3V3</text>
<text x="0" y="0" font-family="Liberation Mono, monospace" font-size="11.8" fill="#808000" stroke="#808000" stroke-width="0.45" textLength="14.1" lengthAdjust="spacingAndGlyphs" transform="matrix(0,-1,-1,0,407.82,469.6)">5V</text>
<text x="0" y="0" font-family="Liberation Mono, monospace" font-size="11.8" fill="#808000" stroke="#808000" stroke-width="0.45" textLength="21.15" lengthAdjust="spacingAndGlyphs" transform="matrix(0,-1,-1,0,443.54,469.6)">GND</text>
<text x="0" y="0" font-family="Liberation Mono, monospace" font-size="11.8" fill="#808000" stroke="#808000" stroke-width="0.45" textLength="42.3" lengthAdjust="spacingAndGlyphs" transform="matrix(0,-1,-1,0,496.8,470.1)">LCD_RD</text>
<text x="0" y="0" font-family="Liberation Mono, monospace" font-size="11.8" fill="#808000" stroke="#808000" stroke-width="0.45" textLength="42.3" lengthAdjust="spacingAndGlyphs" transform="matrix(0,-1,-1,0,514.66,470.1)">LCD_WR</text>
<text x="0" y="0" font-family="Liberation Mono, monospace" font-size="11.8" fill="#808000" stroke="#808000" stroke-width="0.45" textLength="42.3" lengthAdjust="spacingAndGlyphs" transform="matrix(0,-1,-1,0,532.52,470.1)">LCD_RS</text>
<text x="0" y="0" font-family="Liberation Mono, monospace" font-size="11.8" fill="#808000" stroke="#808000" stroke-width="0.45" textLength="42.3" lengthAdjust="spacingAndGlyphs" transform="matrix(0,-1,-1,0,550.38,470.1)">LCD_CS</text>
<text x="0" y="0" font-family="Liberation Mono, monospace" font-size="11.8" fill="#808000" stroke="#808000" stroke-width="0.45" textLength="49.35" lengthAdjust="spacingAndGlyphs" transform="matrix(0,-1,-1,0,568.24,470.1)">LCD_RST</text>
<text x="0" y="0" font-family="Liberation Serif, serif" font-size="14" fill="#808000" stroke="#808000" stroke-width="0.5" stroke-linejoin="round" textLength="24" lengthAdjust="spacingAndGlyphs" transform="matrix(-1,0,0,1,300.5,147.6)">J1_1</text>
<text x="0" y="0" font-family="Liberation Serif, serif" font-size="13.4" fill="#808000" stroke="#808000" stroke-width="0.5" stroke-linejoin="round" textLength="11.6" lengthAdjust="spacingAndGlyphs" transform="matrix(-1,0,0,1,614.6,146.6)">J2</text>
<text x="0" y="0" font-family="Liberation Serif, serif" font-size="13.4" fill="#808000" stroke="#808000" stroke-width="0.5" stroke-linejoin="round" textLength="11.6" lengthAdjust="spacingAndGlyphs" transform="matrix(-1,0,0,1,614.2,487)">J3</text>
<text x="0" y="0" font-family="Liberation Serif, serif" font-size="13.4" fill="#808000" stroke="#808000" stroke-width="0.5" stroke-linejoin="round" textLength="11.6" lengthAdjust="spacingAndGlyphs" transform="matrix(-1,0,0,1,487.6,488)">J4</text>
<text x="0" y="0" font-family="Liberation Serif, serif" font-size="12.5" fill="#808000" stroke="#808000" stroke-width="0.5" stroke-linejoin="round" textLength="26" lengthAdjust="spacingAndGlyphs" transform="matrix(-1,0,0,1,347.5,245.2)">U2_1</text>
<text x="0" y="0" font-family="Liberation Serif, serif" font-size="12.5" fill="#808000" stroke="#808000" stroke-width="0.5" stroke-linejoin="round" textLength="25" lengthAdjust="spacingAndGlyphs" transform="matrix(-1,0,0,1,347.5,375.6)">U3_1</text>
<text x="0" y="0" font-family="Liberation Serif, serif" font-size="12.5" fill="#808000" stroke="#808000" stroke-width="0.5" stroke-linejoin="round" textLength="24" lengthAdjust="spacingAndGlyphs" transform="matrix(-1,0,0,1,284,392.6)">R1_1</text>
<text x="0" y="0" font-family="Liberation Sans, serif" font-size="17.8" fill="#808000" stroke="#808000" stroke-width="0" stroke-linejoin="round" textLength="162" lengthAdjust="spacingAndGlyphs" font-weight="bold" transform="matrix(-1,0,0,1,335.4,486)">2.8&quot;TFT LCD Shield</text>
<rect x="212.2" y="183.2" width="47" height="18.6" fill="none" stroke="#808000" stroke-width="1.1"/>
<circle cx="259.4" cy="213" r="1.5" fill="#808000" />
<path d="M337 293.8 L332.4 293.8 L332.4 249.2 L348.6 249.2 L348.6 293.8 L344 293.8 A3.5 3.5 0 0 0 337 293.8" fill="none" stroke="#808000" stroke-width="1.2"/>
<path d="M336.8 363.8 L332.4 363.8 L332.4 319.4 L348.2 319.4 L348.2 363.8 L343.8 363.8 A3.5 3.5 0 0 0 336.8 363.8" fill="none" stroke="#808000" stroke-width="1.2"/>
<polyline points="300,380.2 287,380.2 287,396.8 301,396.8" fill="none" stroke="#808000" stroke-width="1.2" />
<polyline points="308,380.2 321.2,380.2 321.2,396.8 309,396.8" fill="none" stroke="#808000" stroke-width="1.2" />
<path d="M142 291 L142 280.6 L233.3 280.6 L233.3 288.8 L237.6 288.8 L237.6 378.3 L142 378.3 L142 371 A55.6 55.6 0 0 0 142 291" fill="none" stroke="#808000" stroke-width="1.2"/>
</g>
<g id="top">
<rect x="137.4" y="125.7" width="549.7" height="370.6" fill="none" stroke="#ff00ff" stroke-width="1.3"/>
<polyline points="137.2,72 371.6,72" fill="none" stroke="#ffff00" stroke-width="1.9" />
<polyline points="447,72 687,72" fill="none" stroke="#ffff00" stroke-width="1.9" />
<polyline points="149.2,68 137.2,72 149.2,76" fill="none" stroke="#ffff00" stroke-width="1.6" />
<polyline points="675,68 687,72 675,76" fill="none" stroke="#ffff00" stroke-width="1.6" />
<polyline points="137.2,71 137.2,124" fill="none" stroke="#ffff00" stroke-width="1.9" />
<polyline points="687,71 687,124" fill="none" stroke="#ffff00" stroke-width="1.9" />
<text x="-1.18 8.63 15.18 26.52 36.25 46.94 56.75" y="0" font-family="Liberation Mono, monospace" font-size="18.2" fill="#ffff00" stroke="#000" stroke-width="0.2" transform="translate(373.5,79) scale(1.09,1)">78.22<tspan font-size="16.0">mm</tspan></text>
<polyline points="312.2,91.8 459.4,91.8" fill="none" stroke="#ffff00" stroke-width="1.9" />
<polyline points="534,91.8 687,91.8" fill="none" stroke="#ffff00" stroke-width="1.9" />
<polyline points="324.2,87.8 312.2,91.8 324.2,95.8" fill="none" stroke="#ffff00" stroke-width="1.6" />
<polyline points="675,87.8 687,91.8 675,95.8" fill="none" stroke="#ffff00" stroke-width="1.6" />
<polyline points="312.2,91 312.2,136" fill="none" stroke="#ffff00" stroke-width="1.9" />
<text x="-1.18 8.63 15.18 26.52 36.25 46.94 56.75" y="0" font-family="Liberation Mono, monospace" font-size="18.2" fill="#ffff00" stroke="#000" stroke-width="0.2" transform="translate(460.6,99.5) scale(1.09,1)">53.37<tspan font-size="16.0">mm</tspan></text>
<polyline points="465.8,110.8 537.7,110.8" fill="none" stroke="#ffff00" stroke-width="1.9" />
<polyline points="610,110.8 687,110.8" fill="none" stroke="#ffff00" stroke-width="1.9" />
<polyline points="477.8,106.8 465.8,110.8 477.8,114.8" fill="none" stroke="#ffff00" stroke-width="1.6" />
<polyline points="675,106.8 687,110.8 675,114.8" fill="none" stroke="#ffff00" stroke-width="1.6" />
<polyline points="465.8,110 465.8,136" fill="none" stroke="#ffff00" stroke-width="1.9" />
<text x="-1.18 6.1 13.44 25.15 34.92 45.1 54.83" y="0" font-family="Liberation Mono, monospace" font-size="18.2" fill="#ffff00" stroke="#000" stroke-width="0.2" transform="translate(539.4,118.2) scale(1.09,1)">31.45<tspan font-size="16.0">mm</tspan></text>
<polyline points="715.2,125.5 715.2,276.4" fill="none" stroke="#ffff00" stroke-width="1.9" />
<polyline points="715.2,350.8 715.2,496" fill="none" stroke="#ffff00" stroke-width="1.9" />
<polyline points="711.2,137.5 715.2,125.5 719.2,137.5" fill="none" stroke="#ffff00" stroke-width="1.6" />
<polyline points="711.2,484 715.2,496 719.2,484" fill="none" stroke="#ffff00" stroke-width="1.6" />
<polyline points="689.5,125.4 718,125.4" fill="none" stroke="#ffff00" stroke-width="1.9" />
<polyline points="689.5,496 718,496" fill="none" stroke="#ffff00" stroke-width="1.9" />
<text x="-1.18 8.45 15.37 26.8 35.61 46.48 56.85" y="0" font-family="Liberation Mono, monospace" font-size="18.2" fill="#ffff00" stroke="#000" stroke-width="0.2" transform="translate(722.5,349) rotate(-90) scale(1.09,1)">52.70<tspan font-size="16.0">mm</tspan></text>
<polyline points="103,125.4 136,125.4" fill="none" stroke="#ffff00" stroke-width="1.9" />
<polyline points="103,142.4 306,142.4" fill="none" stroke="#ffff00" stroke-width="1.9" />
<polyline points="103,107 103,125.4" fill="none" stroke="#ffff00" stroke-width="1.9" />
<polyline points="103,142.4 103,160.5" fill="none" stroke="#ffff00" stroke-width="1.9" />
<polyline points="99,113.4 103,125.4 107,113.4" fill="none" stroke="#ffff00" stroke-width="1.6" />
<polyline points="99,154.4 103,142.4 107,154.4" fill="none" stroke="#ffff00" stroke-width="1.6" />
<text x="-1.18 5.09 16.16 24.08 35.29 43.91" y="0" font-family="Liberation Mono, monospace" font-size="18.2" fill="#ffff00" stroke="#000" stroke-width="0.2" transform="translate(91.2,165.7) rotate(-90) scale(1.09,1)">2.41<tspan font-size="16.0">mm</tspan></text>
<polyline points="115,482.1 369,482.1" fill="none" stroke="#ffff00" stroke-width="1.9" />
<polyline points="115,496 135.5,496" fill="none" stroke="#ffff00" stroke-width="1.9" />
<polyline points="117.6,464 117.6,482.1" fill="none" stroke="#ffff00" stroke-width="1.9" />
<polyline points="117.6,496 117.6,514" fill="none" stroke="#ffff00" stroke-width="1.9" />
<polyline points="113.6,470.1 117.6,482.1 121.6,470.1" fill="none" stroke="#ffff00" stroke-width="1.6" />
<polyline points="113.6,508 117.6,496 121.6,508" fill="none" stroke="#ffff00" stroke-width="1.6" />
<text x="-3.62 4.72 16.43 25.88 35.84 44.64" y="0" font-family="Liberation Mono, monospace" font-size="18.2" fill="#ffff00" stroke="#000" stroke-width="0.2" transform="translate(105.3,521.7) rotate(-90) scale(1.09,1)">1.97<tspan font-size="16.0">mm</tspan></text>
<polyline points="500.3,508.8 554,508.8" fill="none" stroke="#ffff00" stroke-width="1.9" />
<polyline points="628.2,508.8 687,508.8" fill="none" stroke="#ffff00" stroke-width="1.9" />
<polyline points="512.3,504.8 500.3,508.8 512.3,512.8" fill="none" stroke="#ffff00" stroke-width="1.6" />
<polyline points="675,504.8 687,508.8 675,512.8" fill="none" stroke="#ffff00" stroke-width="1.6" />
<polyline points="500.3,488 500.3,510" fill="none" stroke="#ffff00" stroke-width="1.9" />
<polyline points="687,498 687,530.5" fill="none" stroke="#ffff00" stroke-width="1.9" />
<text x="-1.18 8.63 15.18 26.52 36.25 46.94 56.75" y="0" font-family="Liberation Mono, monospace" font-size="18.2" fill="#ffff00" stroke="#000" stroke-width="0.2" transform="translate(555.6,515.9) scale(1.09,1)">26.57<tspan font-size="16.0">mm</tspan></text>
<polyline points="375.2,528.3 491.4,528.3" fill="none" stroke="#ffff00" stroke-width="1.9" />
<polyline points="565.6,528.3 687,528.3" fill="none" stroke="#ffff00" stroke-width="1.9" />
<polyline points="387.2,524.2 375.2,528.2 387.2,532.2" fill="none" stroke="#ffff00" stroke-width="1.6" />
<polyline points="675,524.2 687,528.2 675,532.2" fill="none" stroke="#ffff00" stroke-width="1.6" />
<polyline points="375.2,488 375.2,529" fill="none" stroke="#ffff00" stroke-width="1.9" />
<text x="-1.18 8.63 15.18 26.52 36.25 46.94 56.75" y="0" font-family="Liberation Mono, monospace" font-size="18.2" fill="#ffff00" stroke="#000" stroke-width="0.2" transform="translate(493.25,535.5) scale(1.09,1)">44.39<tspan font-size="16.0">mm</tspan></text>
<polyline points="431,159.2 431,181.6" fill="none" stroke="#ffff00" stroke-width="1.9" />
<polyline points="431,440.8 431,462" fill="none" stroke="#ffff00" stroke-width="1.9" />
</g>
</svg>
</body>
</html>
